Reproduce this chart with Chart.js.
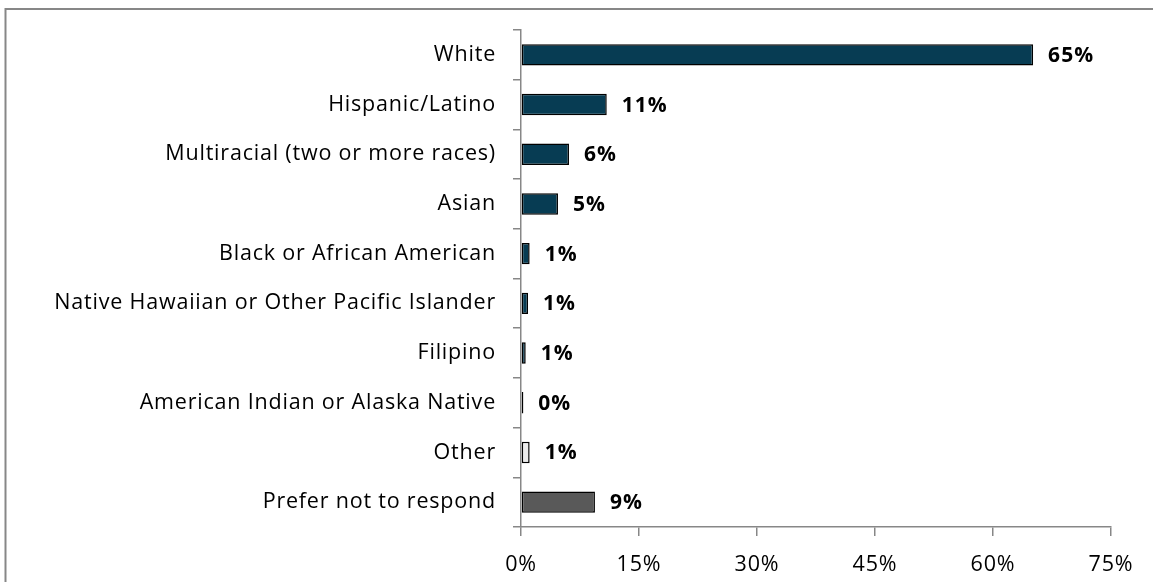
<!DOCTYPE html>
<html>
<head>
<meta charset="utf-8">
<script src="https://cdn.jsdelivr.net/npm/chart.js@4/dist/chart.umd.min.js"></script>
<style>
html,body{margin:0;padding:0;background:#fff;}
#wrap{width:1153px;height:582px;position:relative;}
</style>
</head>
<body>
<div id="wrap"><canvas id="c" width="1153" height="582"></canvas></div>
<script>
const categories = [
  "White",
  "Hispanic/Latino",
  "Multiracial (two or more races)",
  "Asian",
  "Black or African American",
  "Native Hawaiian or Other Pacific Islander",
  "Filipino",
  "American Indian or Alaska Native",
  "Other",
  "Prefer not to respond"
];
const percentValues = [65.1, 10.9, 6.1, 4.7, 1.1, 0.9, 0.6, 0.3, 1.1, 9.4];
const xTickValues = [0, 15, 30, 45, 60, 75];

const barColors = categories.map((c, i) =>
  i === 8 ? "#EBEBEB" : (i === 9 ? "#595959" : "#073C53"));

const FONT = "'Open Sans', sans-serif";

const frame = {
  id: "frame",
  beforeDraw(chart) {
    const ctx = chart.ctx;
    ctx.save();
    ctx.fillStyle = "#ffffff";
    ctx.fillRect(0, 0, chart.width, chart.height);
    ctx.strokeStyle = "#878787";
    ctx.lineWidth = 2;
    ctx.beginPath();
    ctx.moveTo(5.5, chart.height);
    ctx.lineTo(5.5, 9);
    ctx.lineTo(chart.width, 9);
    ctx.stroke();
    ctx.restore();
    ctx.letterSpacing = "0.8px";
  }
};

const valueLabels = {
  id: "valueLabels",
  afterDatasetsDraw(chart) {
    const ctx = chart.ctx;
    const meta = chart.getDatasetMeta(0);
    ctx.save();
    ctx.letterSpacing = "1px";
    ctx.font = "bold 21px " + FONT;
    ctx.fillStyle = "#000";
    ctx.textBaseline = "middle";
    ctx.textAlign = "left";
    meta.data.forEach((el, i) => {
      const v = chart.data.datasets[0].data[i];
      ctx.fillText(Math.round(v) + "%", el.x + 15, el.y + 1);
    });
    ctx.restore();
  }
};

new Chart(document.getElementById("c"), {
  type: "bar",
  data: {
    labels: categories,
    datasets: [{
      data: percentValues,
      backgroundColor: barColors,
      borderColor: "#000",
      borderWidth: 1.5,
      borderSkipped: false,
      barPercentage: 0.43,
      categoryPercentage: 1
    }]
  },
  options: {
    indexAxis: "y",
    responsive: false,
    animation: false,
    layout: { padding: { left: 0, top: 30, right: 42, bottom: 0 } },
    plugins: { legend: { display: false }, tooltip: { enabled: false } },
    scales: {
      x: {
        min: 0,
        max: 75,
        afterBuildTicks(scale) { scale.ticks = xTickValues.map(v => ({ value: v })); },
        afterFit(scale) { scale.height = 55; },
        ticks: {
          color: "#000",
          font: { family: FONT, size: 21.5 },
          padding: 16,
          callback: v => v + "%"
        },
        grid: { drawOnChartArea: false, drawTicks: true, tickLength: 9, color: "#878787", lineWidth: 1.5 },
        border: { color: "#878787", width: 1.5 }
      },
      y: {
        afterFit(scale) { scale.width = 521; },
        ticks: {
          color: "#000",
          font: { family: FONT, size: 21.5 },
          padding: 17
        },
        grid: { drawOnChartArea: false, drawTicks: true, tickLength: 8, color: "#878787", lineWidth: 1.5, offset: true },
        border: { color: "#878787", width: 1.5 }
      }
    }
  },
  plugins: [frame, valueLabels]
});
</script>
</body>
</html>
